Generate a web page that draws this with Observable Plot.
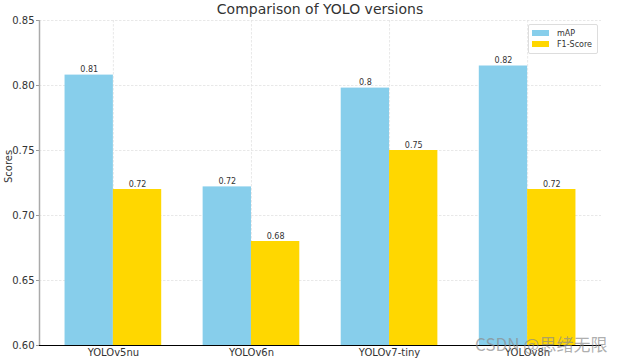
<!DOCTYPE html>
<html>
<head>
<meta charset="utf-8">
<script src="https://cdn.jsdelivr.net/npm/d3@7"></script>
<script src="https://cdn.jsdelivr.net/npm/@observablehq/plot@0.6"></script>
<style>
  html, body { margin: 0; padding: 0; background: #fff; }
  #wrap { position: relative; width: 628px; height: 364px; font-family: "DejaVu Sans", sans-serif; }
  #title { position: absolute; left: 39px; width: 562px; top: 1px; text-align: center; font-size: 14px; color: #333; }
  #legend { position: absolute; left: 528px; top: 24px; width: 68px; height: 28px; border: 1px solid #ddd; border-radius: 2px; background: rgba(255,255,255,0.85); font-size: 8px; color: #333; }
  .li { position: absolute; left: 3px; height: 10px; display: flex; align-items: center; }
  .sw { width: 17px; height: 6px; margin-right: 8px; }
  #wm { position: absolute; left: 475px; top: 333px; font-family: "Noto Sans CJK SC", "DejaVu Sans", sans-serif; font-size: 17px; line-height: 22px; color: rgba(140,140,140,0.7); white-space: nowrap; }
</style>
</head>
<body>
<div id="wrap">
  <div id="chart"></div>
  <div id="title"></div>
  <div id="legend"></div>
  <div id="wm">CSDN @思绪无限</div>
</div>
<script>
const models = ["YOLOv5nu", "YOLOv6n", "YOLOv7-tiny", "YOLOv8n"];
const mAP = [0.808, 0.722, 0.798, 0.815];
const f1Score = [0.72, 0.68, 0.75, 0.72];
const seriesNames = ["mAP", "F1-Score"];
const seriesColors = ["#87CEEB", "#FFD700"];
const yTicks = [0.60, 0.65, 0.70, 0.75, 0.80, 0.85];
const barWidth = 0.35;
const titleText = "Comparison of YOLO versions";
const yLabel = "Scores";

const seriesValues = [mAP, f1Score];
const rows = [];
models.forEach((m, i) => {
  seriesValues.forEach((vals, s) => {
    const x1 = i + (s === 0 ? -barWidth : 0);
    rows.push({model: m, i, series: seriesNames[s], value: vals[i], x1, x2: x1 + barWidth,
               label: String(Math.round(vals[i] * 100) / 100)});
  });
});

const chart = Plot.plot({
  width: 628,
  height: 364,
  marginLeft: 39,
  marginRight: 27,
  marginTop: 20,
  marginBottom: 19,
  style: {fontFamily: "DejaVu Sans, sans-serif", fontSize: "10px", color: "#333", background: "#fff"},
  x: {domain: [-0.535, models.length - 1 + 0.535], axis: null},
  y: {domain: [0.6, 0.85], axis: null},
  color: {domain: seriesNames, range: seriesColors},
  marks: [
    Plot.gridY(yTicks, {stroke: "#e2e2e2", strokeOpacity: 1, strokeDasharray: "2.5,1.5", strokeWidth: 0.8}),
    Plot.gridX(models.map((_, i) => i), {stroke: "#e2e2e2", strokeOpacity: 1, strokeDasharray: "2.5,1.5", strokeWidth: 0.8}),
    Plot.rectY(rows, {x1: "x1", x2: "x2", y1: 0.6, y2: "value", fill: "series"}),
    Plot.text(rows, {x: d => (d.x1 + d.x2) / 2, y: "value", text: "label", lineAnchor: "bottom", dy: -3, fontSize: 8, fill: "#333"}),
    Plot.axisY(yTicks, {tickFormat: d3.format(".2f"), tickSize: 3, tickPadding: 2, stroke: "#999", fontSize: 10, label: null}),
    Plot.axisX(models.map((_, i) => i), {tickFormat: i => models[i], tickSize: 0, tickPadding: 3, fontSize: 10, label: null}),
    Plot.ruleX([-0.535], {stroke: "#aaa", strokeWidth: 1.5}),
    Plot.ruleY([0.6], {stroke: "#000", strokeWidth: 1}),
    Plot.text([yLabel], {frameAnchor: "left", dx: -31, rotate: -90, fontSize: 10, fill: "#333"})
  ]
});
document.getElementById("chart").appendChild(chart);
document.getElementById("title").textContent = titleText;

const legend = document.getElementById("legend");
seriesNames.forEach((n, k) => {
  const item = document.createElement("div");
  item.className = "li";
  item.style.top = (3 + k * 11) + "px";
  const sw = document.createElement("div");
  sw.className = "sw";
  sw.style.background = seriesColors[k];
  const t = document.createElement("span");
  t.textContent = n;
  item.appendChild(sw);
  item.appendChild(t);
  legend.appendChild(item);
});
</script>
</body>
</html>
